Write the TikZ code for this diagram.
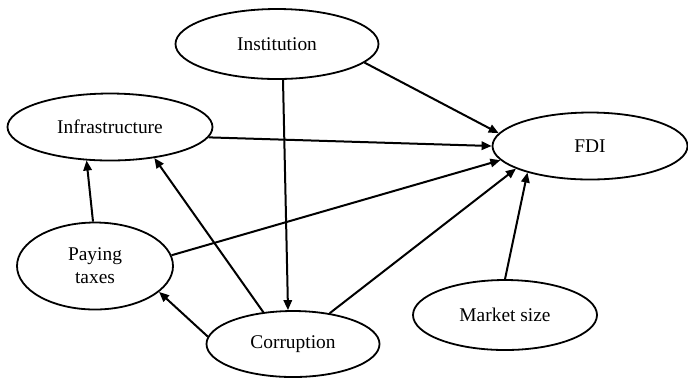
\documentclass[tikz,border=0pt]{standalone}
\usepackage{fontspec}
\setmainfont{Liberation Serif}
\usepackage{tikz}
\usetikzlibrary{arrows.meta,positioning,shapes.geometric}

\begin{document}
\begin{tikzpicture}[
  font=\fontsize{9.7}{11.5}\selectfont,
  on grid,
  oval/.style={draw, ellipse, line width=0.9pt, inner sep=0pt, align=center},
  arr/.style={-{Triangle[length=5pt,width=4.2pt]}, line width=1pt}
]
\useasboundingbox (0,0) rectangle (344pt,-188.5pt);
\node[oval, minimum width=101.5pt, minimum height=35pt] (inst) at (138.5pt,-22pt) {Institution};
\node[oval, minimum width=102.5pt, minimum height=33.5pt, below left=41.5pt and 83.5pt of inst] (infra) {Infrastructure};
\node[oval, minimum width=97.5pt, minimum height=33.5pt, below right=51pt and 156.5pt of inst] (fdi) {FDI};
\node[oval, minimum width=78pt, minimum height=43.5pt, below left=69.5pt and 7.5pt of infra] (pay) {Paying\\taxes};
\node[oval, minimum width=86.5pt, minimum height=33pt, below right=150pt and 8pt of inst] (corr) {Corruption};
\node[oval, minimum width=92pt, minimum height=35pt, below left=84.5pt and 42.5pt of fdi] (mkt) {Market size};
\draw[arr] (inst.-12) -- (fdi.172);
\draw[arr] ([xshift=3pt]inst.south) -- ([xshift=-2.5pt]corr.north);
\draw[arr] (infra.-6) -- (fdi.west);
\draw[arr] ([xshift=-1pt]pay.north) -- (infra.-125);
\draw[arr] (corr.133) -- (infra.-35);
\draw[arr] (corr.175) -- (pay.-22);
\draw[arr] (pay.8) -- (fdi.-171);
\draw[arr] (corr.40) -- (fdi.-163);
\draw[arr] (mkt.north) -- (fdi.-157);
\end{tikzpicture}
\end{document}
